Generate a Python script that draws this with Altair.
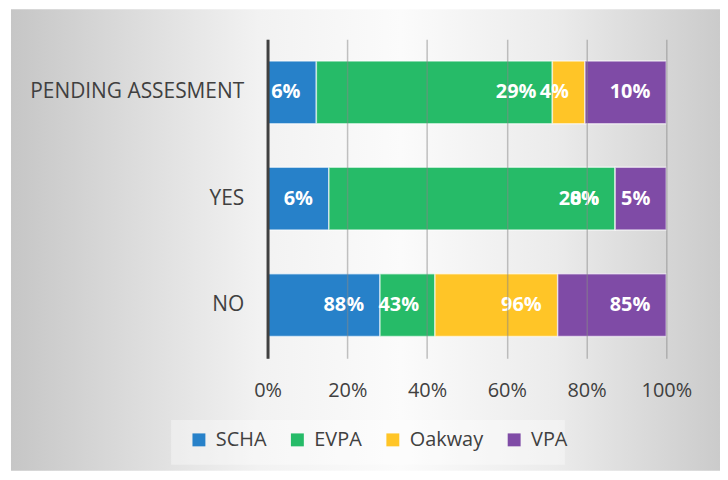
import altair as alt
import pandas as pd

categories = ["PENDING ASSESMENT", "YES", "NO"]
series = ["SCHA", "EVPA", "Oakway", "VPA"]
colors = ["#2781C9", "#26BB68", "#FFC527", "#7F4BA6"]
values = {
    "SCHA":   [6, 6, 88],
    "EVPA":   [29, 28, 43],
    "Oakway": [4, 0, 96],
    "VPA":    [10, 5, 85],
}
x_ticks = [0, 0.2, 0.4, 0.6, 0.8, 1.0]

rows = []
for si, s in enumerate(series):
    for ci, c in enumerate(categories):
        v = values[s][ci]
        rows.append({"cat": c, "series": s, "value": v, "order": si, "label": f"{v}%"})
df = pd.DataFrame(rows)

FONT = "Open Sans"
TXT = "#404040"

base = alt.Chart(df).transform_stack(
    stack="value", groupby=["cat"], as_=["x0", "x1"], offset="normalize",
    sort=[alt.SortField("order", order="ascending")],
)

y_enc = alt.Y("cat:N", sort=categories, title=None,
              scale=alt.Scale(paddingInner=0.41, paddingOuter=0.205),
              axis=alt.Axis(labelFont=FONT, labelFontSize=21, labelColor=TXT,
                            labelLimit=0, ticks=False, labelPadding=24,
                            domainColor="#404040", domainWidth=3, zindex=1, grid=False))

bg = alt.Chart(pd.DataFrame({"k": [0]})).mark_rect(
    fill=alt.Gradient(gradient="linear", x1=0, y1=0, x2=1, y2=0, stops=[
        alt.GradientStop(color="#c6c6c6", offset=0),
        alt.GradientStop(color="#f2f2f2", offset=0.35),
        alt.GradientStop(color="#fbfbfb", offset=0.55),
        alt.GradientStop(color="#ebebeb", offset=0.77),
        alt.GradientStop(color="#cbcbcb", offset=1),
    ])
).encode(x=alt.value(-258), x2=alt.value(455), y=alt.value(-30), y2=alt.value(434))

legbox = alt.Chart(pd.DataFrame({"k": [0]})).mark_rect(
    fill="#ffffff", fillOpacity=0.35
).encode(x=alt.value(-97), x2=alt.value(299), y=alt.value(383), y2=alt.value(428))

bars = base.mark_bar(stroke="#ffffff", strokeWidth=1.5, strokeOpacity=0.6).encode(
    x=alt.X("x0:Q", title=None,
            scale=alt.Scale(domain=[0, 1], nice=False),
            axis=alt.Axis(format="%", values=x_ticks, labelFont=FONT, labelFontSize=20,
                          labelColor=TXT, ticks=False, domain=False, labelPadding=22,
                          labelFlush=False,
                          grid=True, gridColor="#888888", gridOpacity=0.5, gridWidth=1.5,
                          zindex=1)),
    x2="x1:Q",
    y=y_enc,
    color=alt.Color("series:N", scale=alt.Scale(domain=series, range=colors),
                    legend=alt.Legend(title=None, orient="none", legendX=-79, legendY=393,
                                      direction="horizontal", symbolType="square",
                                      symbolSize=169, symbolStrokeWidth=0,
                                      labelFont=FONT, labelFontSize=20, labelColor=TXT,
                                      columnPadding=21, labelOffset=7)),
)

texts = base.mark_text(align="right", baseline="middle", dx=-16, font=FONT,
                       fontSize=20, fontWeight="bold", color="white").encode(
    x="x1:Q",
    y=alt.Y("cat:N", sort=categories),
    text="label:N",
)

chart = alt.layer(bg, legbox, bars, texts).properties(
    width=401, height=321,
    autosize=alt.AutoSizeParams(type="none"),
    padding={"left": 261, "top": 30, "right": 54, "bottom": 113},
).configure(background="#ffffff").configure_view(stroke=None)

chart.save("out.html", embed_options={"renderer": "svg", "actions": False})
